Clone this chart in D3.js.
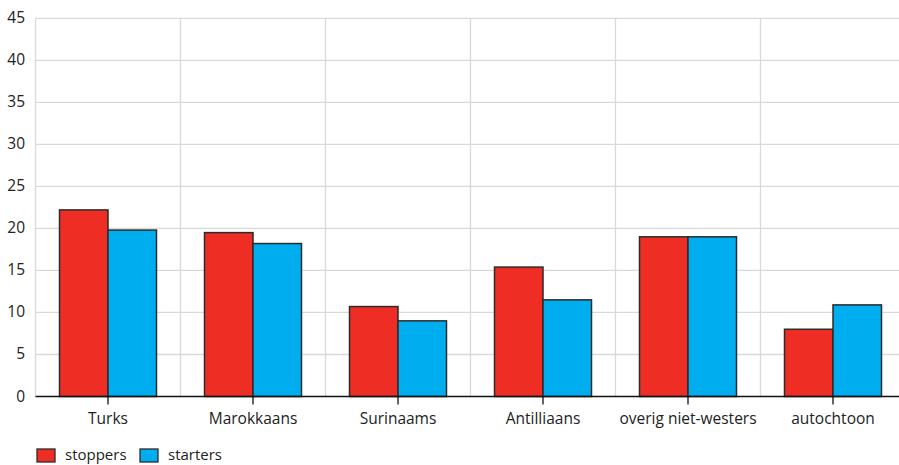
<!DOCTYPE html>
<html><head><meta charset="utf-8">
<script src="https://cdn.jsdelivr.net/npm/d3@7"></script>
<style>body{margin:0;background:#fff;} text{font-family:"Open Sans",sans-serif;}</style>
</head><body>
<svg id="c" width="899" height="465"></svg>
<script>
const categories = ["Turks","Marokkaans","Surinaams","Antilliaans","overig niet-westers","autochtoon"];
const seriesNames = ["stoppers","starters"];
const stoppers = [22.2, 19.5, 10.7, 15.4, 19.0, 8.0];
const starters = [19.8, 18.2, 9.0, 11.5, 19.0, 10.9];
const yTicks = [0,5,10,15,20,25,30,35,40,45];
const colors = ["#ee2e24","#00adee"];

(function(){
const svg = d3.select("#c");
const mLeft = 35.5, mRight = 905.5, mTop = 18.3, mBottom = 396.5;
const fs = 15.5;
const x = d3.scaleBand().domain(categories).range([mLeft,mRight]).paddingInner(0).paddingOuter(0);
const x1 = d3.scaleBand().domain(seriesNames).range([0, x.bandwidth()]).paddingInner(0).paddingOuter(0.495);
const y = d3.scaleLinear().domain([0,45]).range([mBottom, mTop]);

svg.append("g").selectAll("line").data(yTicks.slice(1)).join("line")
  .attr("x1", mLeft).attr("x2", mRight).attr("y1", d=>y(d)).attr("y2", d=>y(d))
  .attr("stroke","#d9d9d9").attr("stroke-width",1.3);
svg.append("g").selectAll("line").data(categories).join("line")
  .attr("x1", d=>x(d)).attr("x2", d=>x(d)).attr("y1", mTop).attr("y2", mBottom)
  .attr("stroke","#d9d9d9").attr("stroke-width",1.3);

svg.append("g").selectAll("text").data(yTicks).join("text")
  .attr("x", 25).attr("y", d=>y(d)+5).attr("text-anchor","end")
  .attr("font-size",fs).attr("fill","#222").text(d=>d);

const data = [stoppers, starters];
const g = svg.append("g");
categories.forEach((c,i)=>{
  seriesNames.forEach((s,j)=>{
    g.append("rect")
      .attr("x", x(c)+x1(s)).attr("width", x1.bandwidth())
      .attr("y", y(data[j][i])).attr("height", y(0)-y(data[j][i]))
      .attr("fill", colors[j]).attr("stroke","#2b2b2b").attr("stroke-width",1.5);
  });
});

const xa = svg.append("g").attr("transform",`translate(0,${mBottom})`)
  .call(d3.axisBottom(x).tickSize(8).tickPadding(8));
xa.select(".domain").attr("stroke","#111").attr("stroke-width",1.5).attr("d",`M${mLeft},0H${mRight}`);
xa.selectAll(".tick line").attr("stroke","#111").attr("stroke-width",1.3);
xa.selectAll(".tick text").attr("font-size",fs).attr("fill","#222").attr("font-family","Open Sans, sans-serif");

const leg = svg.append("g");
const lx = [37, 140];
seriesNames.forEach((s,j)=>{
  leg.append("rect").attr("x", lx[j]).attr("y", 449).attr("width",18).attr("height",13)
    .attr("fill",colors[j]).attr("stroke","#2b2b2b").attr("stroke-width",1.3);
  leg.append("text").attr("x", lx[j]+28).attr("y", 459.5).attr("font-size",15).attr("fill","#222").text(s);
});
})();
</script>
</body></html>
